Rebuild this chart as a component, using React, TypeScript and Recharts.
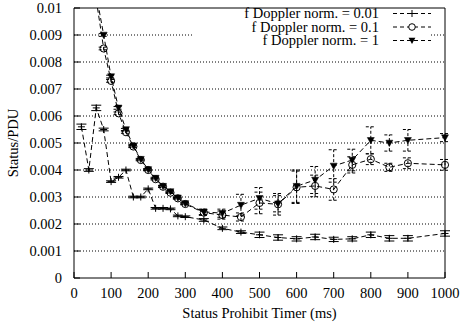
import React from 'react';
import { LineChart, Line, XAxis, YAxis, CartesianGrid, ErrorBar, Legend, Label } from 'recharts';

// timer values (ms)
const timerA = [20, 40, 60, 80, 100, 120, 140, 160, 180, 200, 220, 240, 260, 280, 300, 350, 400, 450, 500, 550, 600, 650, 700, 750, 800, 850, 900, 1000];
const timerBC = [60, 80, 100, 120, 140, 160, 180, 200, 220, 240, 260, 280, 300, 350, 400, 450, 500, 550, 600, 650, 700, 750, 800, 850, 900, 1000];

// f Doppler norm. = 0.01
const statusA = [0.0056, 0.004, 0.0063, 0.0055, 0.00357, 0.00373, 0.004, 0.003, 0.003, 0.0033, 0.00258, 0.00258, 0.00256, 0.0023, 0.00227, 0.00215, 0.00184, 0.0017, 0.0016, 0.0015, 0.00145, 0.00152, 0.00143, 0.00145, 0.0016, 0.00147, 0.00147, 0.00165];
const errA = [0.0001, 0.00005, 0.0001, 0.00005, 0.00003, 0.00003, 0.00003, 0.00003, 0.00003, 0.00003, 0.00003, 0.00003, 0.00003, 0.00003, 0.00003, 0.00005, 0.00005, 0.00005, 0.0001, 0.0001, 0.00008, 0.0001, 0.00008, 0.00008, 0.0001, 0.0001, 0.0001, 0.0001];

// f Doppler norm. = 0.1
const statusB = [0.0103, 0.0085, 0.0073, 0.0061, 0.0054, 0.00487, 0.00437, 0.004, 0.00366, 0.00338, 0.00316, 0.00295, 0.00274, 0.00242, 0.00233, 0.00226, 0.00278, 0.00273, 0.00336, 0.00341, 0.00328, 0.00419, 0.0044, 0.0041, 0.00425, 0.00419];
const errB = [0, 0.00005, 0.00005, 0.00005, 0.00004, 0.00004, 0.00003, 0.00003, 0.00003, 0.00003, 0.00003, 0.00003, 0.00003, 0.0001, 0.00015, 0.00015, 0.0004, 0.0004, 0.0006, 0.0004, 0.0004, 0.0003, 0.0002, 0.00015, 0.0002, 0.0002];

// f Doppler norm. = 1
const statusC = [0.0105, 0.009, 0.00746, 0.0063, 0.0055, 0.0049, 0.0044, 0.00402, 0.0037, 0.0034, 0.0032, 0.00297, 0.00276, 0.00245, 0.0024, 0.0027, 0.00295, 0.00275, 0.0034, 0.00363, 0.00415, 0.00437, 0.0051, 0.005, 0.0051, 0.0052];
const errC = [0, 0.00005, 0.00005, 0.00005, 0.00004, 0.00004, 0.00003, 0.00003, 0.00003, 0.00003, 0.00003, 0.00003, 0.00003, 0.0001, 0.00015, 0.0004, 0.0004, 0.0003, 0.0006, 0.0005, 0.0006, 0.0004, 0.0005, 0.0003, 0.0004, 0.00015];

const xTicks = [0, 100, 200, 300, 400, 500, 600, 700, 800, 900, 1000];
const yTicks = [0, 0.001, 0.002, 0.003, 0.004, 0.005, 0.006, 0.007, 0.008, 0.009, 0.01];
const seriesNames = ['f Doppler norm. = 0.01', 'f Doppler norm. = 0.1', 'f Doppler norm. = 1'];

const dataA = timerA.map((x, i) => ({ x, y: statusA[i], e: errA[i] }));
const dataB = timerBC.map((x, i) => ({ x, y: statusB[i], e: errB[i] }));
const dataC = timerBC.map((x, i) => ({ x, y: statusC[i], e: errC[i] }));

const FONT = 'Liberation Serif';
const DASH = '5 3';

const plusPath = (cx: number, cy: number, s: number) => `M${cx - s},${cy}h${2 * s}M${cx},${cy - s}v${2 * s}`;
const triPath = (cx: number, cy: number, s: number) => `M${cx - s},${cy - s * 0.8}L${cx + s},${cy - s * 0.8}L${cx},${cy + s}Z`;

const PlusDot = (p: any) => {
  if (p.cx == null || p.cy == null) return <g key={p.index} />;
  return <path key={p.index} d={plusPath(p.cx, p.cy, 3.5)} stroke="#000" strokeWidth={1} fill="none" />;
};
const CircleDot = (p: any) => {
  if (p.cx == null || p.cy == null) return <g key={p.index} />;
  return <circle key={p.index} cx={p.cx} cy={p.cy} r={3.6} stroke="#000" strokeWidth={1} fill="none" />;
};
const TriDot = (p: any) => {
  if (p.cx == null || p.cy == null) return <g key={p.index} />;
  return <path key={p.index} d={triPath(p.cx, p.cy, 3.5)} fill="#000" stroke="#000" strokeWidth={0.5} />;
};

const KeyBox = () => {
  const rows = [13.5, 27, 40.5];
  return (
    <svg width={462} height={50} style={{ display: 'block' }}>
      <rect x={192} y={30} width={238} height={14} fill="#fff" />
      {seriesNames.map((name, i) => (
        <g key={name}>
          <text x={379} y={rows[i]} dy="0.33em" textAnchor="end" fontFamily={FONT} fontSize={14.5} fill="#000">
            {name}
          </text>
          <line x1={393} x2={431} y1={rows[i]} y2={rows[i]} stroke="#000" strokeDasharray="4 3" />
          {i === 0 && <path d={plusPath(412, rows[i], 3.5)} stroke="#000" fill="none" />}
          {i === 1 && <circle cx={412} cy={rows[i]} r={3.3} stroke="#000" fill="#fff" />}
          {i === 2 && <path d={triPath(412, rows[i], 3.4)} fill="#000" />}
        </g>
      ))}
    </svg>
  );
};

export default function App() {
  const tickStyle = { fontFamily: FONT, fontSize: 14.5, fill: '#000' };
  return (
    <div style={{ position: 'absolute', left: 0, top: 0, background: '#fff' }}>
      <LineChart width={462} height={325} margin={{ top: 7, right: 16, bottom: 0, left: 0 }}>
        <CartesianGrid xAxisId="b" yAxisId="l" vertical={false} stroke="#000" strokeDasharray="1 2" horizontalValues={yTicks.slice(1, -1)} />
        <XAxis
          xAxisId="b"
          type="number"
          dataKey="x"
          domain={[0, 1000]}
          ticks={xTicks}
          interval={0}
          height={47}
          tickSize={-6}
          tickMargin={16}
          stroke="#000"
          tick={tickStyle}
        >
          <Label
            content={() => (
              <text x={259.5} y={313} dy="0.35em" textAnchor="middle" fontFamily={FONT} fontSize={14.5} fill="#000">
                Status Prohibit Timer (ms)
              </text>
            )}
          />
        </XAxis>
        <XAxis xAxisId="t" orientation="top" type="number" dataKey="x" domain={[0, 1000]} ticks={xTicks} interval={0} height={1} tickSize={-6} tick={false} stroke="#000" />
        <YAxis
          yAxisId="l"
          type="number"
          domain={[0, 0.01]}
          allowDataOverflow
          ticks={yTicks}
          interval={0}
          width={74}
          tickSize={-6}
          tickMargin={18}
          stroke="#000"
          tick={tickStyle}
        >
          <Label
            content={() => (
              <text x={13} y={143} dy="0.35em" textAnchor="middle" transform="rotate(-90 13 143)" fontFamily={FONT} fontSize={14.5} fill="#000">
                Status/PDU
              </text>
            )}
          />
        </YAxis>
        <YAxis yAxisId="r" orientation="right" type="number" domain={[0, 0.01]} allowDataOverflow ticks={yTicks} interval={0} width={1} tickSize={-6} tick={false} stroke="#000" />
        <Legend
          layout="horizontal"
          verticalAlign="middle"
          align="center"
          wrapperStyle={{ left: 0, top: 0, width: 462, height: 50, pointerEvents: 'none' }}
          content={() => <KeyBox />}
        />
        <Line xAxisId="b" yAxisId="l" data={dataA} dataKey="y" name={seriesNames[0]} stroke="#000" strokeWidth={1} strokeDasharray={DASH} dot={PlusDot} isAnimationActive={false}>
          <ErrorBar dataKey="e" direction="y" width={5} stroke="#000" strokeWidth={1} isAnimationActive={false} />
        </Line>
        <Line xAxisId="b" yAxisId="l" data={dataB} dataKey="y" name={seriesNames[1]} stroke="#000" strokeWidth={1} strokeDasharray={DASH} dot={CircleDot} isAnimationActive={false}>
          <ErrorBar dataKey="e" direction="y" width={5} stroke="#000" strokeWidth={1} strokeDasharray="3 2" isAnimationActive={false} />
        </Line>
        <Line xAxisId="b" yAxisId="l" data={dataC} dataKey="y" name={seriesNames[2]} stroke="#000" strokeWidth={1} strokeDasharray={DASH} dot={TriDot} isAnimationActive={false}>
          <ErrorBar dataKey="e" direction="y" width={5} stroke="#000" strokeWidth={1} strokeDasharray="3 2" isAnimationActive={false} />
        </Line>
      </LineChart>
    </div>
  );
}
